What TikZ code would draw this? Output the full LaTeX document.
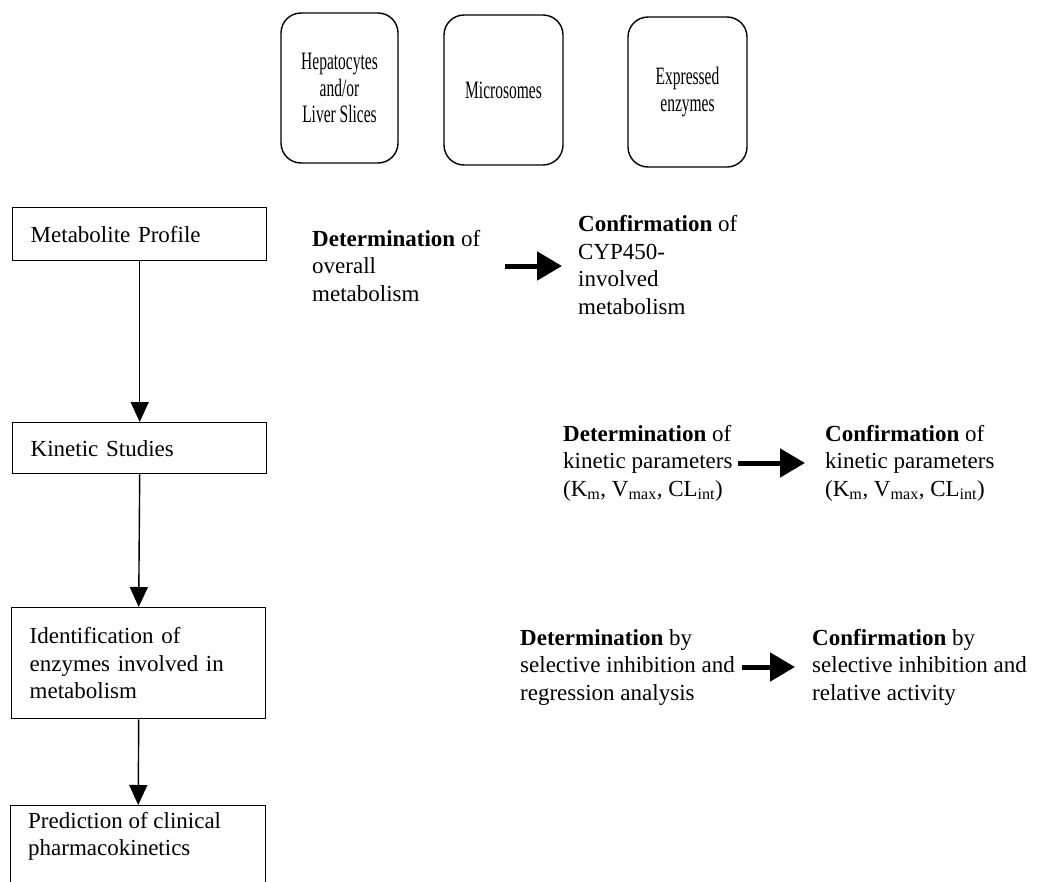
\documentclass[tikz,border=0pt]{standalone}
\usepackage{fontspec}
\setmainfont{Liberation Serif}
\newfontfamily\condfont[FakeStretch=0.62]{Liberation Serif}
\usetikzlibrary{arrows.meta}
\tikzset{
  txt/.style={font=\fontsize{23}{27.5}\selectfont, inner sep=0pt, align=left, anchor=west},
  leftbox/.style={draw, line width=1.4pt, font=\fontsize{23}{27.5}\selectfont, inner xsep=18pt, inner ysep=0pt, text width=218pt, align=left, anchor=north west},
  prepbox/.style={draw, line width=1.4pt, rounded corners=20pt, font=\condfont\fontsize{25}{26.5}\selectfont, align=center, inner sep=0pt},
  flow/.style={line width=1.4pt, -{Triangle[length=20pt,width=18pt]}},
  bold/.style={line width=5pt, -{Triangle[length=25pt,width=28pt]}}
}
\begin{document}
\begin{tikzpicture}[x=1pt,y=-1pt]
\clip (0,0) rectangle (1052,881);
\fill[white] (0,0) rectangle (1052,881);

% preparation boxes
\node[prepbox, minimum width=117pt, minimum height=150pt] (hep) at (339.5,88) {Hepatocytes\\and/or\\Liver Slices};
\node[prepbox, minimum width=119pt, minimum height=150pt] (mic) at (503.5,90) {Microsomes};
\node[prepbox, minimum width=119pt, minimum height=150pt] (exp) at (687.5,92) {Expressed\\enzymes};

% left column
\node[leftbox, minimum height=53pt] (mp) at (12,207) {Metabolite Profile};
\node[leftbox, minimum height=51pt] (ks) at (12,422) {Kinetic Studies};
\node[leftbox, minimum height=111pt] (id) at (11,607) {Identification of\\enzymes involved in\\metabolism};
\node[draw, line width=1.4pt, minimum width=255pt, minimum height=110pt, anchor=north west, inner sep=0pt] (pr) at (10,805) {};
\node[txt, anchor=north west] (prtext) at (28,812) {Prediction of clinical\\pharmacokinetics};

\draw[flow] (mp.south) -- (ks.north);
\draw[flow] (ks.south) -- (id.north);
\draw[flow] (id.south) -- (pr.north);

% row 1
\node[txt] (d1) at (312,266) {\textbf{Determination} of\\overall\\metabolism};
\node[txt] (c1) at (578,265) {\textbf{Confirmation} of\\CYP450-\\involved\\metabolism};
\coordinate (a1s) at (505,266);
\coordinate (a1e) at (562,266);
\draw[bold] (a1s) -- (a1e);

% row 2
\node[txt] (d2) at (563,463) {\textbf{Determination} of\\kinetic parameters\\(K\textsubscript{m}, V\textsubscript{max}, CL\textsubscript{int})};
\node[txt] (c2) at (825,463) {\textbf{Confirmation} of\\kinetic parameters\\(K\textsubscript{m}, V\textsubscript{max}, CL\textsubscript{int})};
\coordinate (a2s) at (738,463);
\coordinate (a2e) at (805,463);
\draw[bold] (a2s) -- (a2e);

% row 3
\node[txt] (d3) at (520,667) {\textbf{Determination} by\\selective inhibition and\\regression analysis};
\node[txt] (c3) at (812,667) {\textbf{Confirmation} by\\selective inhibition and\\relative activity};
\coordinate (a3s) at (742,667);
\coordinate (a3e) at (795,667);
\draw[bold] (a3s) -- (a3e);
\end{tikzpicture}
\end{document}
